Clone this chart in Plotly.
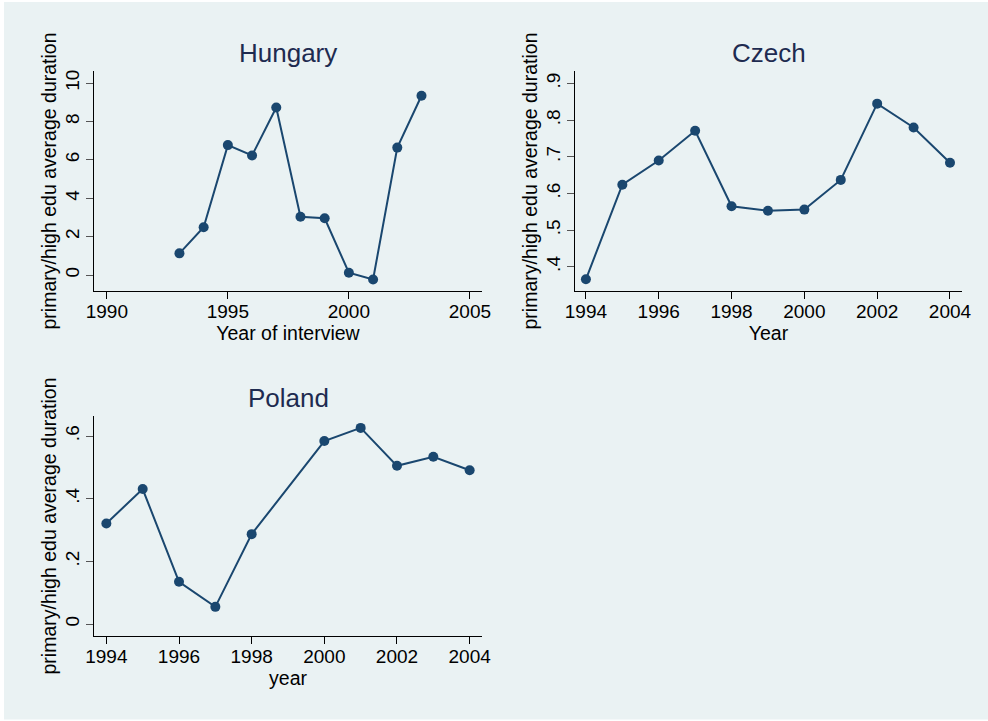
import plotly.graph_objects as go

# Ratio of average unemployment duration, primary vs. higher education
hu_years = [1993, 1994, 1995, 1996, 1997, 1998, 1999, 2000, 2001, 2002, 2003]
hu_ratio = [1.13, 2.49, 6.77, 6.23, 8.73, 3.04, 2.96, 0.12, -0.23, 6.64, 9.34]

cz_years = [1994, 1995, 1996, 1997, 1998, 1999, 2000, 2001, 2002, 2003, 2004]
cz_ratio = [0.366, 0.624, 0.690, 0.771, 0.565, 0.553, 0.556, 0.637, 0.845, 0.780, 0.684]

pl_years = [1994, 1995, 1996, 1997, 1998, 2000, 2001, 2002, 2003, 2004]
pl_ratio = [0.321, 0.431, 0.135, 0.055, 0.287, 0.584, 0.626, 0.505, 0.534, 0.491]

hu_xticks = [1990, 1995, 2000, 2005]
hu_yticks = [0, 2, 4, 6, 8, 10]
hu_ylabels = ["0", "2", "4", "6", "8", "10"]
cz_xticks = [1994, 1996, 1998, 2000, 2002, 2004]
cz_yticks = [0.4, 0.5, 0.6, 0.7, 0.8, 0.9]
cz_ylabels = [".4", ".5", ".6", ".7", ".8", ".9"]
pl_xticks = [1994, 1996, 1998, 2000, 2002, 2004]
pl_yticks = [0, 0.2, 0.4, 0.6]
pl_ylabels = ["0", ".2", ".4", ".6"]

panels = ["Hungary", "Czech", "Poland"]
x_titles = ["Year of interview", "Year", "year"]
y_title = "primary/high edu average duration"

W, H = 988, 721
BG = "#EAF2F3"
NAVY = "#1A476F"
TITLE_C = "#1E2B50"
FONT = "Liberation Sans, Arial, sans-serif"

fig = go.Figure()

series = [(hu_years, hu_ratio), (cz_years, cz_ratio), (pl_years, pl_ratio)]
for i, (xs, ys) in enumerate(series):
    suffix = "" if i == 0 else str(i + 1)
    fig.add_trace(go.Scatter(
        x=xs, y=ys, mode="lines+markers",
        line=dict(color=NAVY, width=2),
        marker=dict(color=NAVY, size=10),
        xaxis="x" + suffix, yaxis="y" + suffix,
        showlegend=False, cliponaxis=False,
    ))

# plot-region boxes in pixels: (left, top, right, bottom)
boxes = [(94, 71, 482, 291), (575, 71, 962, 291), (94, 416, 482, 636)]
xranges = [[1989.47, 2005.5], [1993.7, 2004.33], [1993.66, 2004.34]]
yranges = [[-0.83, 10.63], [0.334, 0.934], [-0.038, 0.664]]
xticks = [hu_xticks, cz_xticks, pl_xticks]
yticks = [(hu_yticks, hu_ylabels), (cz_yticks, cz_ylabels), (pl_yticks, pl_ylabels)]

layout = dict(
    width=W, height=H,
    margin=dict(l=0, r=0, t=0, b=0, autoexpand=False),
    paper_bgcolor="white",
    plot_bgcolor="white",
    font=dict(family=FONT, size=19, color="black"),
    shapes=[dict(type="rect", xref="paper", yref="paper",
                 x0=4 / W, x1=1, y0=0.002, y1=1 - 2 / H,
                 fillcolor=BG, line=dict(width=0), layer="below")],
    annotations=[],
)

for i, (l, t, r, b) in enumerate(boxes):
    suffix = "" if i == 0 else str(i + 1)
    layout["xaxis" + suffix] = dict(
        domain=[l / W, r / W], range=xranges[i], anchor="y" + suffix,
        automargin=False,
        tickvals=xticks[i], ticks="outside", ticklen=7, tickwidth=1.3,
        tickcolor="black", showline=True, linecolor="black", linewidth=1.3,
        showgrid=False, zeroline=False, ticklabelstandoff=-4,
        tickfont=dict(size=19, color="black"),
        title=dict(text=x_titles[i], font=dict(size=19.5, color="black"), standoff=0),
    )
    tv, tt = yticks[i]
    layout["yaxis" + suffix] = dict(
        domain=[1 - b / H, 1 - t / H], range=yranges[i], anchor="x" + suffix,
        automargin=False,
        tickvals=tv, ticktext=tt, tickangle=-90,
        ticks="outside", ticklen=7, tickwidth=1.3, tickcolor="#555555",
        showline=True, linecolor="black", linewidth=1.3, ticklabelstandoff=-1,
        showgrid=True, gridcolor=BG, gridwidth=1.3, zeroline=False,
        tickfont=dict(size=19, color="black"),
        title=dict(text=y_title, font=dict(size=19.5, color="black"), standoff=0),
    )
    layout["annotations"].append(dict(
        text=panels[i], xref="paper", yref="paper",
        x=(l + r) / 2 / W, y=1 - (t - 18) / H,
        xanchor="center", yanchor="middle", showarrow=False,
        font=dict(size=26, color=TITLE_C, family=FONT),
    ))

fig.update_layout(**layout)
fig.write_html("out.html")
